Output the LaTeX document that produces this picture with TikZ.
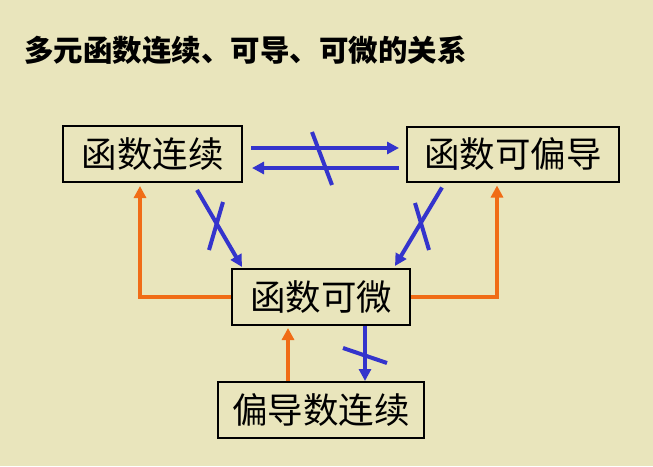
\documentclass[tikz,border=0pt]{standalone}
\definecolor{paperbg}{RGB}{233, 229, 188}
\definecolor{implblue}{RGB}{52, 52, 204}
\definecolor{implorange}{RGB}{240, 108, 22}
\usepackage{fontspec}
\newfontfamily\cjk{Noto Sans CJK SC}
\usepackage{tikz}
\usetikzlibrary{arrows.meta, positioning, calc}

\tikzset{
  statebox/.style={draw=black, line width=2pt, inner sep=0pt, font=\cjk\fontsize{35.5}{35.5}\selectfont},
  notimpl/.style={draw=implblue, line width=4pt, -{Triangle[length=12pt, width=12pt]}},
  impl/.style={draw=implorange, line width=4pt, -{Triangle[length=12pt, width=12pt]}},
  crossbar/.style={draw=implblue, line width=4pt}
}

\begin{document}
\begin{tikzpicture}[x=1pt, y=-1pt]
  \fill[paperbg] (0,0) rectangle (653,466);
  \useasboundingbox (0,0) rectangle (653,466);

  \node[anchor=west, inner sep=0pt, font=\cjk\bfseries\fontsize{29.5}{29.5}\selectfont] (title) at (24,50) {多元函数连续、可导、可微的关系};

  \node[statebox, minimum width=179pt, minimum height=56pt] (cont) at (152.5,154) {函数连续};
  \node[statebox, minimum width=212pt, minimum height=55pt] (pdiff) at (513,154) {函数可偏导};
  \node[statebox, minimum width=178pt, minimum height=56pt] (diff) at (321,297) {函数可微};
  \node[statebox, minimum width=206pt, minimum height=56pt] (pcont) at (321,410) {偏导数连续};

  % continuity and partial derivatives do not imply each other
  \draw[notimpl] ([xshift=8pt, yshift=6pt]cont.east) -- ([xshift=-7pt, yshift=6pt]pdiff.west);
  \draw[notimpl] ([xshift=-7pt, yshift=-14pt]pdiff.west) -- ([xshift=9pt, yshift=-14pt]cont.east);
  \draw[crossbar] (312,132) -- (332,185);

  % neither one gives differentiability
  \draw[notimpl] ([xshift=44.5pt, yshift=-7pt]cont.south) -- ([xshift=-79pt, yshift=1pt]diff.north);
  \draw[crossbar] (223,202) -- (209,250);
  \draw[notimpl] ([xshift=-71pt, yshift=-5pt]pdiff.south) -- ([xshift=74pt, yshift=2pt]diff.north);
  \draw[crossbar] (415,203) -- (429,250);

  % differentiability gives both
  \draw[impl] (diff.west) -| ([xshift=-12.5pt, yshift=-3pt]cont.south);
  \draw[impl] (diff.east) -| ([xshift=-16pt, yshift=-3pt]pdiff.south);

  % continuous partials give differentiability, not conversely
  \draw[impl] ([xshift=-33pt]pcont.north) -- ([xshift=-33pt, yshift=-2pt]diff.south);
  \draw[notimpl] ([xshift=44pt]diff.south) -- ([xshift=44pt]pcont.north);
  \draw[crossbar] (343,348) -- (387,363);
\end{tikzpicture}
\end{document}
